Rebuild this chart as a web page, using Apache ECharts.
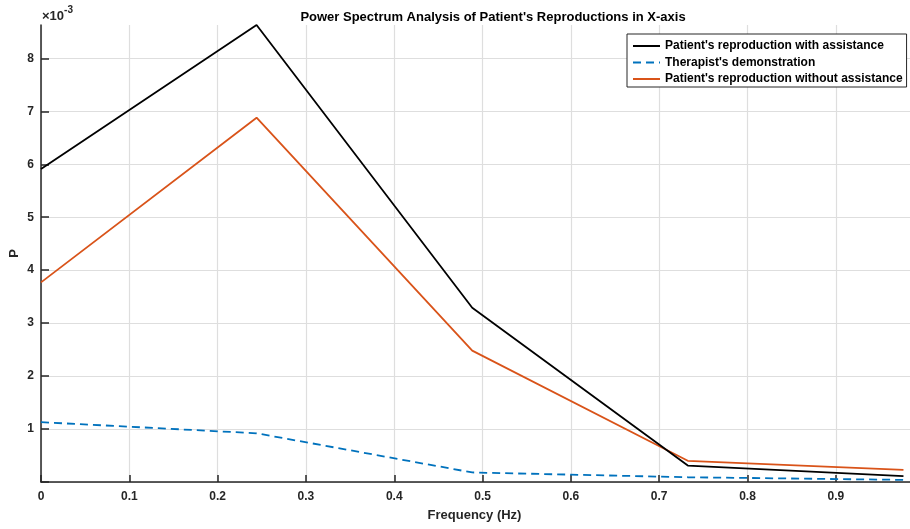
<!DOCTYPE html>
<html>
<head>
<meta charset="utf-8">
<script src="https://cdn.jsdelivr.net/npm/echarts@6/dist/echarts.min.js"></script>
<style>
  html, body { margin: 0; padding: 0; background: #fff; }
  #chart { width: 910px; height: 529px; }
</style>
</head>
<body>
<div id="chart"></div>
<script>
// Frequency bins (Hz)
const freq = [0, 0.2441, 0.4883, 0.7324, 0.9766];
// Power values, in units of 1e-3
const withAssistance = [5.91, 8.63, 3.29, 0.31, 0.11];
const therapistDemo = [1.13, 0.92, 0.18, 0.09, 0.04];
const withoutAssistance = [3.77, 6.88, 2.48, 0.40, 0.23];

// Tick positions
const xTicks = [0, 0.1, 0.2, 0.3, 0.4, 0.5, 0.6, 0.7, 0.8, 0.9];
const yTicks = [0, 1, 2, 3, 4, 5, 6, 7, 8];

const seriesNames = [
  "Patient's reproduction with assistance",
  "Therapist's demonstration",
  "Patient's reproduction without assistance"
];

const xMax = 0.984;
const yMax = 8.63;

const font = 'Liberation Sans, Arial, Helvetica, sans-serif';
const axisColor = '#262626';
const gridColor = '#dedede';

function pairs(xs, ys) { return xs.map((x, i) => [x, ys[i]]); }
// grid line colours: one per tick, the extra edge tick left invisible
function gridColors(n) { return Array(n).fill(gridColor).concat(['rgba(0,0,0,0)']); }

const chart = echarts.init(document.getElementById('chart'), null, { renderer: 'canvas' });

chart.setOption({
  animation: false,
  backgroundColor: '#ffffff',
  title: {
    text: "Power Spectrum Analysis of Patient's Reproductions in X-axis",
    left: 488, top: 6, textAlign: 'center',
    textStyle: { fontFamily: font, fontWeight: 'bold', fontSize: 13, color: '#000' }
  },
  grid: { left: 41, right: 0, top: 25, bottom: 47, containLabel: false, outerBoundsMode: 'none' },
  legend: {
    orient: 'vertical',
    left: 627, top: 34,
    padding: [5, 4, 1, 5],
    itemGap: 2.5,
    itemWidth: 27, itemHeight: 14,
    backgroundColor: '#fff',
    borderColor: '#262626', borderWidth: 1,
    itemStyle: { opacity: 0, borderWidth: 0 },
    textStyle: { fontFamily: font, fontWeight: 'bold', fontSize: 12, color: '#000', lineHeight: 14 },
    data: seriesNames
  },
  xAxis: {
    type: 'value', min: 0, max: xMax, interval: 0.1,
    name: 'Frequency (Hz)', nameLocation: 'middle', nameGap: 27, nameMoveOverlap: false,
    nameTextStyle: { fontFamily: font, fontWeight: 'bold', fontSize: 13, color: '#262626', padding: [0, 0, 0, -2] },
    axisLine: { show: true, onZero: false, lineStyle: { color: axisColor, width: 1.5 } },
    axisTick: { show: true, inside: true, length: 7, customValues: xTicks, lineStyle: { color: axisColor, width: 1.5 } },
    axisLabel: {
      fontFamily: font, fontWeight: 'bold', fontSize: 12, color: '#262626', margin: 9,
      customValues: xTicks,
      formatter: v => (v === 0 ? '0' : v.toFixed(1))
    },
    splitLine: { show: true, lineStyle: { color: gridColors(xTicks.length), width: 1.2 } }
  },
  yAxis: {
    type: 'value', min: 0, max: yMax, interval: 1,
    name: 'P', nameLocation: 'middle', nameGap: 20, nameRotate: 90, nameMoveOverlap: false,
    nameTextStyle: { fontFamily: font, fontWeight: 'bold', fontSize: 13, color: '#262626' },
    axisLine: { show: true, onZero: false, lineStyle: { color: axisColor, width: 1.5 } },
    axisTick: { show: true, inside: true, length: 8, customValues: yTicks, lineStyle: { color: axisColor, width: 1.5 } },
    axisLabel: {
      fontFamily: font, fontWeight: 'bold', fontSize: 12, color: '#262626', margin: 7,
      customValues: yTicks.slice(1),
      formatter: v => String(Math.round(v))
    },
    splitLine: { show: true, lineStyle: { color: gridColors(yTicks.length), width: 1.2 } }
  },
  graphic: [{
    type: 'text', left: 42, top: 5,
    style: {
      text: '{a|×10}{b|-3}',
      rich: {
        a: { fontFamily: font, fontWeight: 'bold', fontSize: 13, fill: '#262626', padding: [5, 0, 0, 0] },
        b: { fontFamily: font, fontWeight: 'bold', fontSize: 10, fill: '#262626', verticalAlign: 'top', padding: [0, 0, 6, 0] }
      }
    }
  }],
  series: [
    {
      name: seriesNames[0], type: 'line', data: pairs(freq, withAssistance),
      symbol: 'none', z: 3,
      lineStyle: { color: '#000000', width: 1.8 }, itemStyle: { color: '#000000' }
    },
    {
      name: seriesNames[1], type: 'line', data: pairs(freq, therapistDemo),
      symbol: 'none', z: 2,
      lineStyle: { color: '#0072BD', width: 1.8, type: [8, 5] }, itemStyle: { color: '#0072BD' }
    },
    {
      name: seriesNames[2], type: 'line', data: pairs(freq, withoutAssistance),
      symbol: 'none', z: 2,
      lineStyle: { color: '#D95319', width: 1.8 }, itemStyle: { color: '#D95319' }
    }
  ]
});
</script>
</body>
</html>
